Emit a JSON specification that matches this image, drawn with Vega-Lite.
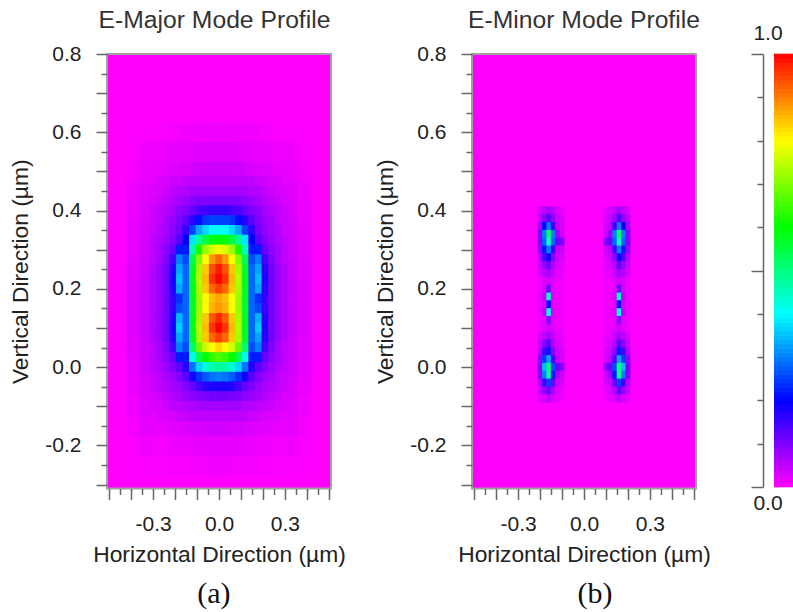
{"$schema":"https://vega.github.io/schema/vega-lite/v6.json","padding":{"left":8,"top":7,"right":0,"bottom":0},"background":"white",
"config":{"view":{"stroke":"#a0a0a0","strokeWidth":2,"fill":"#ff00ff"},"axis":{"domain":false,"grid":false,"tickColor":"#666666","tickWidth":1.5,"tickCount":40,"labelFont":"Liberation Sans","labelFontSize":21,"labelColor":"#222222","titleFont":"Liberation Sans","titleFontSize":22.8,"titleFontWeight":"normal","titleColor":"#222222","labelOverlap":false,"labelFlush":false,"labelBound":false},"title":{"font":"Liberation Sans","fontSize":24.7,"fontWeight":"normal","color":"#333333","offset":10}},
"datasets":{
"labels":[{"p":"a","x":-0.023,"y":-0.58,"t":"(a)"},{"p":"b","x":0.05,"y":-0.58,"t":"(b)"}],
"bar_labels":[{"x":-0.316,"y":1.046,"t":"1.0"},{"x":-0.316,"y":-0.039,"t":"0.0"}],
"bar":[{"v":0.005},{"v":0.015},{"v":0.025},{"v":0.035},{"v":0.045},{"v":0.055},{"v":0.065},{"v":0.075},{"v":0.085},{"v":0.095},{"v":0.105},{"v":0.115},{"v":0.125},{"v":0.135},{"v":0.145},{"v":0.155},{"v":0.165},{"v":0.175},{"v":0.185},{"v":0.195},{"v":0.205},{"v":0.215},{"v":0.225},{"v":0.235},{"v":0.245},{"v":0.255},{"v":0.265},{"v":0.275},{"v":0.285},{"v":0.295},{"v":0.305},{"v":0.315},{"v":0.325},{"v":0.335},{"v":0.345},{"v":0.355},{"v":0.365},{"v":0.375},{"v":0.385},{"v":0.395},{"v":0.405},{"v":0.415},{"v":0.425},{"v":0.435},{"v":0.445},{"v":0.455},{"v":0.465},{"v":0.475},{"v":0.485},{"v":0.495},{"v":0.505},{"v":0.515},{"v":0.525},{"v":0.535},{"v":0.545},{"v":0.555},{"v":0.565},{"v":0.575},{"v":0.585},{"v":0.595},{"v":0.605},{"v":0.615},{"v":0.625},{"v":0.635},{"v":0.645},{"v":0.655},{"v":0.665},{"v":0.675},{"v":0.685},{"v":0.695},{"v":0.705},{"v":0.715},{"v":0.725},{"v":0.735},{"v":0.745},{"v":0.755},{"v":0.765},{"v":0.775},{"v":0.785},{"v":0.795},{"v":0.805},{"v":0.815},{"v":0.825},{"v":0.835},{"v":0.845},{"v":0.855},{"v":0.865},{"v":0.875},{"v":0.885},{"v":0.895},{"v":0.905},{"v":0.915},{"v":0.925},{"v":0.935},{"v":0.945},{"v":0.955},{"v":0.965},{"v":0.975},{"v":0.985},{"v":0.995}],
"af":[
{"y":-0.25,"x":-0.39,"v":0.003},{"y":-0.25,"x":-0.33,"v":0.005},{"y":-0.25,"x":0.33,"v":0.005},{"y":-0.25,"x":0.39,"v":0.003},
{"y":-0.2,"x":-0.39,"v":0.005},{"y":-0.2,"x":-0.33,"v":0.01},{"y":-0.2,"x":0.33,"v":0.01},{"y":-0.2,"x":0.39,"v":0.005},
{"y":-0.15,"x":-0.39,"v":0.008},{"y":-0.15,"x":-0.33,"v":0.02},{"y":-0.15,"x":0.33,"v":0.02},{"y":-0.15,"x":0.39,"v":0.008},
{"y":-0.1,"x":-0.39,"v":0.012},{"y":-0.1,"x":-0.33,"v":0.025},{"y":-0.1,"x":0.33,"v":0.025},{"y":-0.1,"x":0.39,"v":0.012},
{"y":-0.05,"x":-0.39,"v":0.016},{"y":-0.05,"x":-0.33,"v":0.03},{"y":-0.05,"x":0.33,"v":0.03},{"y":-0.05,"x":0.39,"v":0.016},
{"y":0,"x":-0.39,"v":0.02},{"y":0,"x":-0.33,"v":0.035},{"y":0,"x":0.33,"v":0.035},{"y":0,"x":0.39,"v":0.02},
{"y":0.05,"x":-0.39,"v":0.023},{"y":0.05,"x":-0.33,"v":0.04},{"y":0.05,"x":0.33,"v":0.04},{"y":0.05,"x":0.39,"v":0.023},
{"y":0.1,"x":-0.39,"v":0.025},{"y":0.1,"x":-0.33,"v":0.042},{"y":0.1,"x":0.33,"v":0.042},{"y":0.1,"x":0.39,"v":0.025},
{"y":0.15,"x":-0.39,"v":0.025},{"y":0.15,"x":-0.33,"v":0.042},{"y":0.15,"x":0.33,"v":0.042},{"y":0.15,"x":0.39,"v":0.025},
{"y":0.2,"x":-0.39,"v":0.025},{"y":0.2,"x":-0.33,"v":0.042},{"y":0.2,"x":0.33,"v":0.042},{"y":0.2,"x":0.39,"v":0.025},
{"y":0.25,"x":-0.39,"v":0.023},{"y":0.25,"x":-0.33,"v":0.04},{"y":0.25,"x":0.33,"v":0.04},{"y":0.25,"x":0.39,"v":0.023},
{"y":0.3,"x":-0.39,"v":0.02},{"y":0.3,"x":-0.33,"v":0.035},{"y":0.3,"x":0.33,"v":0.035},{"y":0.3,"x":0.39,"v":0.02},
{"y":0.35,"x":-0.39,"v":0.018},{"y":0.35,"x":-0.33,"v":0.032},{"y":0.35,"x":0.33,"v":0.032},{"y":0.35,"x":0.39,"v":0.018},
{"y":0.4,"x":-0.39,"v":0.015},{"y":0.4,"x":-0.33,"v":0.028},{"y":0.4,"x":0.33,"v":0.028},{"y":0.4,"x":0.39,"v":0.015},
{"y":0.45,"x":-0.39,"v":0.012},{"y":0.45,"x":-0.33,"v":0.022},{"y":0.45,"x":0.33,"v":0.022},{"y":0.45,"x":0.39,"v":0.012},
{"y":0.5,"x":-0.39,"v":0.008},{"y":0.5,"x":-0.33,"v":0.016},{"y":0.5,"x":0.33,"v":0.016},{"y":0.5,"x":0.39,"v":0.008},
{"y":0.55,"x":-0.39,"v":0.005},{"y":0.55,"x":-0.33,"v":0.01},{"y":0.55,"x":0.33,"v":0.01},{"y":0.55,"x":0.39,"v":0.005},
{"y":0.6,"x":-0.39,"v":0.003},{"y":0.6,"x":-0.33,"v":0.005},{"y":0.6,"x":0.33,"v":0.005},{"y":0.6,"x":0.39,"v":0.003},
{"y":0.6,"x":-0.27,"v":0.005},{"y":0.6,"x":-0.21,"v":0.007},{"y":0.6,"x":-0.15,"v":0.01},{"y":0.6,"x":-0.09,"v":0.011},{"y":0.6,"x":-0.03,"v":0.012},{"y":0.6,"x":0.03,"v":0.012},{"y":0.6,"x":0.09,"v":0.011},{"y":0.6,"x":0.15,"v":0.01},{"y":0.6,"x":0.21,"v":0.007},{"y":0.6,"x":0.27,"v":0.005},
{"y":0.55,"x":-0.27,"v":0.012},{"y":0.55,"x":-0.21,"v":0.017},{"y":0.55,"x":-0.15,"v":0.02},{"y":0.55,"x":-0.09,"v":0.023},{"y":0.55,"x":-0.03,"v":0.025},{"y":0.55,"x":0.03,"v":0.025},{"y":0.55,"x":0.09,"v":0.023},{"y":0.55,"x":0.15,"v":0.02},{"y":0.55,"x":0.21,"v":0.017},{"y":0.55,"x":0.27,"v":0.012},
{"y":0.5,"x":-0.27,"v":0.018},{"y":0.5,"x":-0.21,"v":0.025},{"y":0.5,"x":-0.15,"v":0.03},{"y":0.5,"x":-0.09,"v":0.037},{"y":0.5,"x":-0.03,"v":0.04},{"y":0.5,"x":0.03,"v":0.04},{"y":0.5,"x":0.09,"v":0.037},{"y":0.5,"x":0.15,"v":0.03},{"y":0.5,"x":0.21,"v":0.025},{"y":0.5,"x":0.27,"v":0.018},
{"y":-0.15,"x":-0.27,"v":0.016},{"y":-0.15,"x":-0.21,"v":0.022},{"y":-0.15,"x":-0.15,"v":0.028},{"y":-0.15,"x":-0.09,"v":0.032},{"y":-0.15,"x":-0.03,"v":0.035},{"y":-0.15,"x":0.03,"v":0.035},{"y":-0.15,"x":0.09,"v":0.032},{"y":-0.15,"x":0.15,"v":0.028},{"y":-0.15,"x":0.21,"v":0.022},{"y":-0.15,"x":0.27,"v":0.016},
{"y":-0.2,"x":-0.27,"v":0.008},{"y":-0.2,"x":-0.21,"v":0.012},{"y":-0.2,"x":-0.15,"v":0.015},{"y":-0.2,"x":-0.09,"v":0.018},{"y":-0.2,"x":-0.03,"v":0.02},{"y":-0.2,"x":0.03,"v":0.02},{"y":-0.2,"x":0.09,"v":0.018},{"y":-0.2,"x":0.15,"v":0.015},{"y":-0.2,"x":0.21,"v":0.012},{"y":-0.2,"x":0.27,"v":0.008},
{"y":-0.25,"x":-0.27,"v":0.004},{"y":-0.25,"x":-0.21,"v":0.006},{"y":-0.25,"x":-0.15,"v":0.008},{"y":-0.25,"x":-0.09,"v":0.009},{"y":-0.25,"x":-0.03,"v":0.01},{"y":-0.25,"x":0.03,"v":0.01},{"y":-0.25,"x":0.09,"v":0.009},{"y":-0.25,"x":0.15,"v":0.008},{"y":-0.25,"x":0.21,"v":0.006},{"y":-0.25,"x":0.27,"v":0.004}
],
"a":[
{"y":0.475,"x":-0.3,"v":0.02},{"y":0.475,"x":-0.27,"v":0.03},{"y":0.475,"x":-0.24,"v":0.03},{"y":0.475,"x":-0.21,"v":0.04},{"y":0.475,"x":-0.18,"v":0.04},{"y":0.475,"x":-0.15,"v":0.05},{"y":0.475,"x":-0.12,"v":0.05},{"y":0.475,"x":-0.09,"v":0.05},{"y":0.475,"x":-0.06,"v":0.05},{"y":0.475,"x":-0.03,"v":0.05},{"y":0.475,"x":0,"v":0.05},{"y":0.475,"x":0.03,"v":0.05},{"y":0.475,"x":0.06,"v":0.05},{"y":0.475,"x":0.09,"v":0.05},{"y":0.475,"x":0.12,"v":0.05},{"y":0.475,"x":0.15,"v":0.05},{"y":0.475,"x":0.18,"v":0.04},{"y":0.475,"x":0.21,"v":0.04},{"y":0.475,"x":0.24,"v":0.03},{"y":0.475,"x":0.27,"v":0.03},{"y":0.475,"x":0.3,"v":0.02},
{"y":0.45,"x":-0.3,"v":0.03},{"y":0.45,"x":-0.27,"v":0.03},{"y":0.45,"x":-0.24,"v":0.04},{"y":0.45,"x":-0.21,"v":0.05},{"y":0.45,"x":-0.18,"v":0.06},{"y":0.45,"x":-0.15,"v":0.06},{"y":0.45,"x":-0.12,"v":0.07},{"y":0.45,"x":-0.09,"v":0.07},{"y":0.45,"x":-0.06,"v":0.07},{"y":0.45,"x":-0.03,"v":0.07},{"y":0.45,"x":0,"v":0.07},{"y":0.45,"x":0.03,"v":0.07},{"y":0.45,"x":0.06,"v":0.07},{"y":0.45,"x":0.09,"v":0.07},{"y":0.45,"x":0.12,"v":0.07},{"y":0.45,"x":0.15,"v":0.06},{"y":0.45,"x":0.18,"v":0.06},{"y":0.45,"x":0.21,"v":0.05},{"y":0.45,"x":0.24,"v":0.04},{"y":0.45,"x":0.27,"v":0.03},{"y":0.45,"x":0.3,"v":0.03},
{"y":0.425,"x":-0.3,"v":0.03},{"y":0.425,"x":-0.27,"v":0.04},{"y":0.425,"x":-0.24,"v":0.05},{"y":0.425,"x":-0.21,"v":0.06},{"y":0.425,"x":-0.18,"v":0.07},{"y":0.425,"x":-0.15,"v":0.08},{"y":0.425,"x":-0.12,"v":0.09},{"y":0.425,"x":-0.09,"v":0.1},{"y":0.425,"x":-0.06,"v":0.1},{"y":0.425,"x":-0.03,"v":0.1},{"y":0.425,"x":0,"v":0.1},{"y":0.425,"x":0.03,"v":0.1},{"y":0.425,"x":0.06,"v":0.1},{"y":0.425,"x":0.09,"v":0.1},{"y":0.425,"x":0.12,"v":0.09},{"y":0.425,"x":0.15,"v":0.08},{"y":0.425,"x":0.18,"v":0.07},{"y":0.425,"x":0.21,"v":0.06},{"y":0.425,"x":0.24,"v":0.05},{"y":0.425,"x":0.27,"v":0.04},{"y":0.425,"x":0.3,"v":0.03},
{"y":0.4,"x":-0.3,"v":0.04},{"y":0.4,"x":-0.27,"v":0.05},{"y":0.4,"x":-0.24,"v":0.06},{"y":0.4,"x":-0.21,"v":0.07},{"y":0.4,"x":-0.18,"v":0.09},{"y":0.4,"x":-0.15,"v":0.1},{"y":0.4,"x":-0.12,"v":0.12},{"y":0.4,"x":-0.09,"v":0.14},{"y":0.4,"x":-0.06,"v":0.15},{"y":0.4,"x":-0.03,"v":0.16},{"y":0.4,"x":0,"v":0.16},{"y":0.4,"x":0.03,"v":0.16},{"y":0.4,"x":0.06,"v":0.15},{"y":0.4,"x":0.09,"v":0.14},{"y":0.4,"x":0.12,"v":0.12},{"y":0.4,"x":0.15,"v":0.1},{"y":0.4,"x":0.18,"v":0.09},{"y":0.4,"x":0.21,"v":0.07},{"y":0.4,"x":0.24,"v":0.06},{"y":0.4,"x":0.27,"v":0.05},{"y":0.4,"x":0.3,"v":0.04},
{"y":0.375,"x":-0.3,"v":0.04},{"y":0.375,"x":-0.27,"v":0.05},{"y":0.375,"x":-0.24,"v":0.07},{"y":0.375,"x":-0.21,"v":0.08},{"y":0.375,"x":-0.18,"v":0.1},{"y":0.375,"x":-0.15,"v":0.13},{"y":0.375,"x":-0.12,"v":0.17},{"y":0.375,"x":-0.09,"v":0.21},{"y":0.375,"x":-0.06,"v":0.24},{"y":0.375,"x":-0.03,"v":0.25},{"y":0.375,"x":0,"v":0.25},{"y":0.375,"x":0.03,"v":0.25},{"y":0.375,"x":0.06,"v":0.24},{"y":0.375,"x":0.09,"v":0.21},{"y":0.375,"x":0.12,"v":0.17},{"y":0.375,"x":0.15,"v":0.13},{"y":0.375,"x":0.18,"v":0.1},{"y":0.375,"x":0.21,"v":0.08},{"y":0.375,"x":0.24,"v":0.07},{"y":0.375,"x":0.27,"v":0.05},{"y":0.375,"x":0.3,"v":0.04},
{"y":0.35,"x":-0.3,"v":0.04},{"y":0.35,"x":-0.27,"v":0.06},{"y":0.35,"x":-0.24,"v":0.07},{"y":0.35,"x":-0.21,"v":0.09},{"y":0.35,"x":-0.18,"v":0.11},{"y":0.35,"x":-0.15,"v":0.16},{"y":0.35,"x":-0.12,"v":0.25},{"y":0.35,"x":-0.09,"v":0.33},{"y":0.35,"x":-0.06,"v":0.37},{"y":0.35,"x":-0.03,"v":0.4},{"y":0.35,"x":0,"v":0.4},{"y":0.35,"x":0.03,"v":0.4},{"y":0.35,"x":0.06,"v":0.37},{"y":0.35,"x":0.09,"v":0.33},{"y":0.35,"x":0.12,"v":0.25},{"y":0.35,"x":0.15,"v":0.16},{"y":0.35,"x":0.18,"v":0.11},{"y":0.35,"x":0.21,"v":0.09},{"y":0.35,"x":0.24,"v":0.07},{"y":0.35,"x":0.27,"v":0.06},{"y":0.35,"x":0.3,"v":0.04},
{"y":0.325,"x":-0.3,"v":0.05},{"y":0.325,"x":-0.27,"v":0.06},{"y":0.325,"x":-0.24,"v":0.08},{"y":0.325,"x":-0.21,"v":0.1},{"y":0.325,"x":-0.18,"v":0.13},{"y":0.325,"x":-0.15,"v":0.2},{"y":0.325,"x":-0.12,"v":0.38},{"y":0.325,"x":-0.09,"v":0.48},{"y":0.325,"x":-0.06,"v":0.55},{"y":0.325,"x":-0.03,"v":0.59},{"y":0.325,"x":0,"v":0.6},{"y":0.325,"x":0.03,"v":0.59},{"y":0.325,"x":0.06,"v":0.55},{"y":0.325,"x":0.09,"v":0.48},{"y":0.325,"x":0.12,"v":0.38},{"y":0.325,"x":0.15,"v":0.2},{"y":0.325,"x":0.18,"v":0.13},{"y":0.325,"x":0.21,"v":0.1},{"y":0.325,"x":0.24,"v":0.08},{"y":0.325,"x":0.27,"v":0.06},{"y":0.325,"x":0.3,"v":0.05},
{"y":0.3,"x":-0.3,"v":0.05},{"y":0.3,"x":-0.27,"v":0.07},{"y":0.3,"x":-0.24,"v":0.09},{"y":0.3,"x":-0.21,"v":0.12},{"y":0.3,"x":-0.18,"v":0.22},{"y":0.3,"x":-0.15,"v":0.22},{"y":0.3,"x":-0.12,"v":0.46},{"y":0.3,"x":-0.09,"v":0.62},{"y":0.3,"x":-0.06,"v":0.72},{"y":0.3,"x":-0.03,"v":0.77},{"y":0.3,"x":0,"v":0.79},{"y":0.3,"x":0.03,"v":0.77},{"y":0.3,"x":0.06,"v":0.72},{"y":0.3,"x":0.09,"v":0.62},{"y":0.3,"x":0.12,"v":0.46},{"y":0.3,"x":0.15,"v":0.22},{"y":0.3,"x":0.18,"v":0.22},{"y":0.3,"x":0.21,"v":0.12},{"y":0.3,"x":0.24,"v":0.09},{"y":0.3,"x":0.27,"v":0.07},{"y":0.3,"x":0.3,"v":0.05},
{"y":0.275,"x":-0.3,"v":0.05},{"y":0.275,"x":-0.27,"v":0.07},{"y":0.275,"x":-0.24,"v":0.1},{"y":0.275,"x":-0.21,"v":0.15},{"y":0.275,"x":-0.18,"v":0.3},{"y":0.275,"x":-0.15,"v":0.26},{"y":0.275,"x":-0.12,"v":0.54},{"y":0.275,"x":-0.09,"v":0.7},{"y":0.275,"x":-0.06,"v":0.8},{"y":0.275,"x":-0.03,"v":0.88},{"y":0.275,"x":0,"v":0.92},{"y":0.275,"x":0.03,"v":0.88},{"y":0.275,"x":0.06,"v":0.8},{"y":0.275,"x":0.09,"v":0.7},{"y":0.275,"x":0.12,"v":0.54},{"y":0.275,"x":0.15,"v":0.26},{"y":0.275,"x":0.18,"v":0.3},{"y":0.275,"x":0.21,"v":0.15},{"y":0.275,"x":0.24,"v":0.1},{"y":0.275,"x":0.27,"v":0.07},{"y":0.275,"x":0.3,"v":0.05},
{"y":0.25,"x":-0.3,"v":0.06},{"y":0.25,"x":-0.27,"v":0.08},{"y":0.25,"x":-0.24,"v":0.11},{"y":0.25,"x":-0.21,"v":0.17},{"y":0.25,"x":-0.18,"v":0.33},{"y":0.25,"x":-0.15,"v":0.28},{"y":0.25,"x":-0.12,"v":0.57},{"y":0.25,"x":-0.09,"v":0.73},{"y":0.25,"x":-0.06,"v":0.84},{"y":0.25,"x":-0.03,"v":0.94},{"y":0.25,"x":0,"v":0.98},{"y":0.25,"x":0.03,"v":0.94},{"y":0.25,"x":0.06,"v":0.84},{"y":0.25,"x":0.09,"v":0.73},{"y":0.25,"x":0.12,"v":0.57},{"y":0.25,"x":0.15,"v":0.28},{"y":0.25,"x":0.18,"v":0.33},{"y":0.25,"x":0.21,"v":0.17},{"y":0.25,"x":0.24,"v":0.11},{"y":0.25,"x":0.27,"v":0.08},{"y":0.25,"x":0.3,"v":0.06},
{"y":0.225,"x":-0.3,"v":0.06},{"y":0.225,"x":-0.27,"v":0.08},{"y":0.225,"x":-0.24,"v":0.11},{"y":0.225,"x":-0.21,"v":0.18},{"y":0.225,"x":-0.18,"v":0.35},{"y":0.225,"x":-0.15,"v":0.28},{"y":0.225,"x":-0.12,"v":0.58},{"y":0.225,"x":-0.09,"v":0.74},{"y":0.225,"x":-0.06,"v":0.85},{"y":0.225,"x":-0.03,"v":0.96},{"y":0.225,"x":0,"v":1},{"y":0.225,"x":0.03,"v":0.96},{"y":0.225,"x":0.06,"v":0.85},{"y":0.225,"x":0.09,"v":0.74},{"y":0.225,"x":0.12,"v":0.58},{"y":0.225,"x":0.15,"v":0.28},{"y":0.225,"x":0.18,"v":0.35},{"y":0.225,"x":0.21,"v":0.18},{"y":0.225,"x":0.24,"v":0.11},{"y":0.225,"x":0.27,"v":0.08},{"y":0.225,"x":0.3,"v":0.06},
{"y":0.2,"x":-0.3,"v":0.06},{"y":0.2,"x":-0.27,"v":0.08},{"y":0.2,"x":-0.24,"v":0.11},{"y":0.2,"x":-0.21,"v":0.17},{"y":0.2,"x":-0.18,"v":0.33},{"y":0.2,"x":-0.15,"v":0.28},{"y":0.2,"x":-0.12,"v":0.58},{"y":0.2,"x":-0.09,"v":0.73},{"y":0.2,"x":-0.06,"v":0.84},{"y":0.2,"x":-0.03,"v":0.92},{"y":0.2,"x":0,"v":0.95},{"y":0.2,"x":0.03,"v":0.92},{"y":0.2,"x":0.06,"v":0.84},{"y":0.2,"x":0.09,"v":0.73},{"y":0.2,"x":0.12,"v":0.58},{"y":0.2,"x":0.15,"v":0.28},{"y":0.2,"x":0.18,"v":0.33},{"y":0.2,"x":0.21,"v":0.17},{"y":0.2,"x":0.24,"v":0.11},{"y":0.2,"x":0.27,"v":0.08},{"y":0.2,"x":0.3,"v":0.06},
{"y":0.175,"x":-0.3,"v":0.06},{"y":0.175,"x":-0.27,"v":0.08},{"y":0.175,"x":-0.24,"v":0.11},{"y":0.175,"x":-0.21,"v":0.16},{"y":0.175,"x":-0.18,"v":0.24},{"y":0.175,"x":-0.15,"v":0.28},{"y":0.175,"x":-0.12,"v":0.57},{"y":0.175,"x":-0.09,"v":0.72},{"y":0.175,"x":-0.06,"v":0.8},{"y":0.175,"x":-0.03,"v":0.85},{"y":0.175,"x":0,"v":0.87},{"y":0.175,"x":0.03,"v":0.85},{"y":0.175,"x":0.06,"v":0.8},{"y":0.175,"x":0.09,"v":0.72},{"y":0.175,"x":0.12,"v":0.57},{"y":0.175,"x":0.15,"v":0.28},{"y":0.175,"x":0.18,"v":0.24},{"y":0.175,"x":0.21,"v":0.16},{"y":0.175,"x":0.24,"v":0.11},{"y":0.175,"x":0.27,"v":0.08},{"y":0.175,"x":0.3,"v":0.06},
{"y":0.15,"x":-0.3,"v":0.06},{"y":0.15,"x":-0.27,"v":0.08},{"y":0.15,"x":-0.24,"v":0.11},{"y":0.15,"x":-0.21,"v":0.16},{"y":0.15,"x":-0.18,"v":0.26},{"y":0.15,"x":-0.15,"v":0.28},{"y":0.15,"x":-0.12,"v":0.57},{"y":0.15,"x":-0.09,"v":0.72},{"y":0.15,"x":-0.06,"v":0.8},{"y":0.15,"x":-0.03,"v":0.86},{"y":0.15,"x":0,"v":0.88},{"y":0.15,"x":0.03,"v":0.86},{"y":0.15,"x":0.06,"v":0.8},{"y":0.15,"x":0.09,"v":0.72},{"y":0.15,"x":0.12,"v":0.57},{"y":0.15,"x":0.15,"v":0.28},{"y":0.15,"x":0.18,"v":0.26},{"y":0.15,"x":0.21,"v":0.16},{"y":0.15,"x":0.24,"v":0.11},{"y":0.15,"x":0.27,"v":0.08},{"y":0.15,"x":0.3,"v":0.06},
{"y":0.125,"x":-0.3,"v":0.06},{"y":0.125,"x":-0.27,"v":0.08},{"y":0.125,"x":-0.24,"v":0.11},{"y":0.125,"x":-0.21,"v":0.17},{"y":0.125,"x":-0.18,"v":0.34},{"y":0.125,"x":-0.15,"v":0.28},{"y":0.125,"x":-0.12,"v":0.58},{"y":0.125,"x":-0.09,"v":0.73},{"y":0.125,"x":-0.06,"v":0.84},{"y":0.125,"x":-0.03,"v":0.93},{"y":0.125,"x":0,"v":0.97},{"y":0.125,"x":0.03,"v":0.93},{"y":0.125,"x":0.06,"v":0.84},{"y":0.125,"x":0.09,"v":0.73},{"y":0.125,"x":0.12,"v":0.58},{"y":0.125,"x":0.15,"v":0.28},{"y":0.125,"x":0.18,"v":0.34},{"y":0.125,"x":0.21,"v":0.17},{"y":0.125,"x":0.24,"v":0.11},{"y":0.125,"x":0.27,"v":0.08},{"y":0.125,"x":0.3,"v":0.06},
{"y":0.1,"x":-0.3,"v":0.06},{"y":0.1,"x":-0.27,"v":0.08},{"y":0.1,"x":-0.24,"v":0.11},{"y":0.1,"x":-0.21,"v":0.18},{"y":0.1,"x":-0.18,"v":0.36},{"y":0.1,"x":-0.15,"v":0.28},{"y":0.1,"x":-0.12,"v":0.58},{"y":0.1,"x":-0.09,"v":0.74},{"y":0.1,"x":-0.06,"v":0.85},{"y":0.1,"x":-0.03,"v":0.96},{"y":0.1,"x":0,"v":1},{"y":0.1,"x":0.03,"v":0.96},{"y":0.1,"x":0.06,"v":0.85},{"y":0.1,"x":0.09,"v":0.74},{"y":0.1,"x":0.12,"v":0.58},{"y":0.1,"x":0.15,"v":0.28},{"y":0.1,"x":0.18,"v":0.36},{"y":0.1,"x":0.21,"v":0.18},{"y":0.1,"x":0.24,"v":0.11},{"y":0.1,"x":0.27,"v":0.08},{"y":0.1,"x":0.3,"v":0.06},
{"y":0.075,"x":-0.3,"v":0.06},{"y":0.075,"x":-0.27,"v":0.08},{"y":0.075,"x":-0.24,"v":0.11},{"y":0.075,"x":-0.21,"v":0.17},{"y":0.075,"x":-0.18,"v":0.33},{"y":0.075,"x":-0.15,"v":0.28},{"y":0.075,"x":-0.12,"v":0.57},{"y":0.075,"x":-0.09,"v":0.73},{"y":0.075,"x":-0.06,"v":0.84},{"y":0.075,"x":-0.03,"v":0.92},{"y":0.075,"x":0,"v":0.95},{"y":0.075,"x":0.03,"v":0.92},{"y":0.075,"x":0.06,"v":0.84},{"y":0.075,"x":0.09,"v":0.73},{"y":0.075,"x":0.12,"v":0.57},{"y":0.075,"x":0.15,"v":0.28},{"y":0.075,"x":0.18,"v":0.33},{"y":0.075,"x":0.21,"v":0.17},{"y":0.075,"x":0.24,"v":0.11},{"y":0.075,"x":0.27,"v":0.08},{"y":0.075,"x":0.3,"v":0.06},
{"y":0.05,"x":-0.3,"v":0.05},{"y":0.05,"x":-0.27,"v":0.07},{"y":0.05,"x":-0.24,"v":0.1},{"y":0.05,"x":-0.21,"v":0.15},{"y":0.05,"x":-0.18,"v":0.3},{"y":0.05,"x":-0.15,"v":0.26},{"y":0.05,"x":-0.12,"v":0.52},{"y":0.05,"x":-0.09,"v":0.68},{"y":0.05,"x":-0.06,"v":0.76},{"y":0.05,"x":-0.03,"v":0.8},{"y":0.05,"x":0,"v":0.83},{"y":0.05,"x":0.03,"v":0.8},{"y":0.05,"x":0.06,"v":0.76},{"y":0.05,"x":0.09,"v":0.68},{"y":0.05,"x":0.12,"v":0.52},{"y":0.05,"x":0.15,"v":0.26},{"y":0.05,"x":0.18,"v":0.3},{"y":0.05,"x":0.21,"v":0.15},{"y":0.05,"x":0.24,"v":0.1},{"y":0.05,"x":0.27,"v":0.07},{"y":0.05,"x":0.3,"v":0.05},
{"y":0.025,"x":-0.3,"v":0.05},{"y":0.025,"x":-0.27,"v":0.07},{"y":0.025,"x":-0.24,"v":0.09},{"y":0.025,"x":-0.21,"v":0.12},{"y":0.025,"x":-0.18,"v":0.22},{"y":0.025,"x":-0.15,"v":0.22},{"y":0.025,"x":-0.12,"v":0.42},{"y":0.025,"x":-0.09,"v":0.54},{"y":0.025,"x":-0.06,"v":0.6},{"y":0.025,"x":-0.03,"v":0.64},{"y":0.025,"x":0,"v":0.66},{"y":0.025,"x":0.03,"v":0.64},{"y":0.025,"x":0.06,"v":0.6},{"y":0.025,"x":0.09,"v":0.54},{"y":0.025,"x":0.12,"v":0.42},{"y":0.025,"x":0.15,"v":0.22},{"y":0.025,"x":0.18,"v":0.22},{"y":0.025,"x":0.21,"v":0.12},{"y":0.025,"x":0.24,"v":0.09},{"y":0.025,"x":0.27,"v":0.07},{"y":0.025,"x":0.3,"v":0.05},
{"y":0,"x":-0.3,"v":0.05},{"y":0,"x":-0.27,"v":0.06},{"y":0,"x":-0.24,"v":0.08},{"y":0,"x":-0.21,"v":0.1},{"y":0,"x":-0.18,"v":0.13},{"y":0,"x":-0.15,"v":0.17},{"y":0,"x":-0.12,"v":0.29},{"y":0,"x":-0.09,"v":0.37},{"y":0,"x":-0.06,"v":0.43},{"y":0,"x":-0.03,"v":0.47},{"y":0,"x":0,"v":0.48},{"y":0,"x":0.03,"v":0.47},{"y":0,"x":0.06,"v":0.43},{"y":0,"x":0.09,"v":0.37},{"y":0,"x":0.12,"v":0.29},{"y":0,"x":0.15,"v":0.17},{"y":0,"x":0.18,"v":0.13},{"y":0,"x":0.21,"v":0.1},{"y":0,"x":0.24,"v":0.08},{"y":0,"x":0.27,"v":0.06},{"y":0,"x":0.3,"v":0.05},
{"y":-0.025,"x":-0.3,"v":0.04},{"y":-0.025,"x":-0.27,"v":0.05},{"y":-0.025,"x":-0.24,"v":0.07},{"y":-0.025,"x":-0.21,"v":0.08},{"y":-0.025,"x":-0.18,"v":0.1},{"y":-0.025,"x":-0.15,"v":0.13},{"y":-0.025,"x":-0.12,"v":0.19},{"y":-0.025,"x":-0.09,"v":0.24},{"y":-0.025,"x":-0.06,"v":0.27},{"y":-0.025,"x":-0.03,"v":0.29},{"y":-0.025,"x":0,"v":0.3},{"y":-0.025,"x":0.03,"v":0.29},{"y":-0.025,"x":0.06,"v":0.27},{"y":-0.025,"x":0.09,"v":0.24},{"y":-0.025,"x":0.12,"v":0.19},{"y":-0.025,"x":0.15,"v":0.13},{"y":-0.025,"x":0.18,"v":0.1},{"y":-0.025,"x":0.21,"v":0.08},{"y":-0.025,"x":0.24,"v":0.07},{"y":-0.025,"x":0.27,"v":0.05},{"y":-0.025,"x":0.3,"v":0.04},
{"y":-0.05,"x":-0.3,"v":0.04},{"y":-0.05,"x":-0.27,"v":0.05},{"y":-0.05,"x":-0.24,"v":0.06},{"y":-0.05,"x":-0.21,"v":0.07},{"y":-0.05,"x":-0.18,"v":0.08},{"y":-0.05,"x":-0.15,"v":0.1},{"y":-0.05,"x":-0.12,"v":0.12},{"y":-0.05,"x":-0.09,"v":0.15},{"y":-0.05,"x":-0.06,"v":0.17},{"y":-0.05,"x":-0.03,"v":0.18},{"y":-0.05,"x":0,"v":0.18},{"y":-0.05,"x":0.03,"v":0.18},{"y":-0.05,"x":0.06,"v":0.17},{"y":-0.05,"x":0.09,"v":0.15},{"y":-0.05,"x":0.12,"v":0.12},{"y":-0.05,"x":0.15,"v":0.1},{"y":-0.05,"x":0.18,"v":0.08},{"y":-0.05,"x":0.21,"v":0.07},{"y":-0.05,"x":0.24,"v":0.06},{"y":-0.05,"x":0.27,"v":0.05},{"y":-0.05,"x":0.3,"v":0.04},
{"y":-0.075,"x":-0.3,"v":0.03},{"y":-0.075,"x":-0.27,"v":0.04},{"y":-0.075,"x":-0.24,"v":0.05},{"y":-0.075,"x":-0.21,"v":0.06},{"y":-0.075,"x":-0.18,"v":0.07},{"y":-0.075,"x":-0.15,"v":0.08},{"y":-0.075,"x":-0.12,"v":0.09},{"y":-0.075,"x":-0.09,"v":0.1},{"y":-0.075,"x":-0.06,"v":0.1},{"y":-0.075,"x":-0.03,"v":0.11},{"y":-0.075,"x":0,"v":0.11},{"y":-0.075,"x":0.03,"v":0.11},{"y":-0.075,"x":0.06,"v":0.1},{"y":-0.075,"x":0.09,"v":0.1},{"y":-0.075,"x":0.12,"v":0.09},{"y":-0.075,"x":0.15,"v":0.08},{"y":-0.075,"x":0.18,"v":0.07},{"y":-0.075,"x":0.21,"v":0.06},{"y":-0.075,"x":0.24,"v":0.05},{"y":-0.075,"x":0.27,"v":0.04},{"y":-0.075,"x":0.3,"v":0.03},
{"y":-0.1,"x":-0.3,"v":0.03},{"y":-0.1,"x":-0.27,"v":0.03},{"y":-0.1,"x":-0.24,"v":0.04},{"y":-0.1,"x":-0.21,"v":0.05},{"y":-0.1,"x":-0.18,"v":0.05},{"y":-0.1,"x":-0.15,"v":0.06},{"y":-0.1,"x":-0.12,"v":0.06},{"y":-0.1,"x":-0.09,"v":0.07},{"y":-0.1,"x":-0.06,"v":0.07},{"y":-0.1,"x":-0.03,"v":0.07},{"y":-0.1,"x":0,"v":0.07},{"y":-0.1,"x":0.03,"v":0.07},{"y":-0.1,"x":0.06,"v":0.07},{"y":-0.1,"x":0.09,"v":0.07},{"y":-0.1,"x":0.12,"v":0.06},{"y":-0.1,"x":0.15,"v":0.06},{"y":-0.1,"x":0.18,"v":0.05},{"y":-0.1,"x":0.21,"v":0.05},{"y":-0.1,"x":0.24,"v":0.04},{"y":-0.1,"x":0.27,"v":0.03},{"y":-0.1,"x":0.3,"v":0.03},
{"y":-0.125,"x":-0.3,"v":0.02},{"y":-0.125,"x":-0.27,"v":0.03},{"y":-0.125,"x":-0.24,"v":0.03},{"y":-0.125,"x":-0.21,"v":0.03},{"y":-0.125,"x":-0.18,"v":0.04},{"y":-0.125,"x":-0.15,"v":0.04},{"y":-0.125,"x":-0.12,"v":0.05},{"y":-0.125,"x":-0.09,"v":0.05},{"y":-0.125,"x":-0.06,"v":0.05},{"y":-0.125,"x":-0.03,"v":0.05},{"y":-0.125,"x":0,"v":0.05},{"y":-0.125,"x":0.03,"v":0.05},{"y":-0.125,"x":0.06,"v":0.05},{"y":-0.125,"x":0.09,"v":0.05},{"y":-0.125,"x":0.12,"v":0.05},{"y":-0.125,"x":0.15,"v":0.04},{"y":-0.125,"x":0.18,"v":0.04},{"y":-0.125,"x":0.21,"v":0.03},{"y":-0.125,"x":0.24,"v":0.03},{"y":-0.125,"x":0.27,"v":0.03},{"y":-0.125,"x":0.3,"v":0.02}
],
"b":[
{"y":0.4,"x":-0.2,"v":0.03},{"y":0.4,"x":-0.18,"v":0.05},{"y":0.4,"x":-0.16,"v":0.07},{"y":0.4,"x":-0.14,"v":0.05},{"y":0.4,"x":-0.12,"v":0.03},{"y":0.4,"x":-0.1,"v":0.02},{"y":0.4,"x":0.1,"v":0.02},{"y":0.4,"x":0.12,"v":0.03},{"y":0.4,"x":0.14,"v":0.05},{"y":0.4,"x":0.16,"v":0.07},{"y":0.4,"x":0.18,"v":0.05},{"y":0.4,"x":0.2,"v":0.03},
{"y":0.38,"x":-0.2,"v":0.05},{"y":0.38,"x":-0.18,"v":0.09},{"y":0.38,"x":-0.16,"v":0.14},{"y":0.38,"x":-0.14,"v":0.08},{"y":0.38,"x":-0.12,"v":0.04},{"y":0.38,"x":-0.1,"v":0.03},{"y":0.38,"x":0.1,"v":0.03},{"y":0.38,"x":0.12,"v":0.04},{"y":0.38,"x":0.14,"v":0.08},{"y":0.38,"x":0.16,"v":0.14},{"y":0.38,"x":0.18,"v":0.09},{"y":0.38,"x":0.2,"v":0.05},
{"y":0.36,"x":-0.2,"v":0.07},{"y":0.36,"x":-0.18,"v":0.2},{"y":0.36,"x":-0.16,"v":0.3},{"y":0.36,"x":-0.14,"v":0.15},{"y":0.36,"x":-0.12,"v":0.05},{"y":0.36,"x":-0.1,"v":0.03},{"y":0.36,"x":0.1,"v":0.03},{"y":0.36,"x":0.12,"v":0.05},{"y":0.36,"x":0.14,"v":0.15},{"y":0.36,"x":0.16,"v":0.3},{"y":0.36,"x":0.18,"v":0.2},{"y":0.36,"x":0.2,"v":0.07},
{"y":0.34,"x":-0.2,"v":0.1},{"y":0.34,"x":-0.18,"v":0.3},{"y":0.34,"x":-0.16,"v":0.52},{"y":0.34,"x":-0.14,"v":0.3},{"y":0.34,"x":-0.12,"v":0.08},{"y":0.34,"x":-0.1,"v":0.04},{"y":0.34,"x":0.1,"v":0.04},{"y":0.34,"x":0.12,"v":0.08},{"y":0.34,"x":0.14,"v":0.3},{"y":0.34,"x":0.16,"v":0.52},{"y":0.34,"x":0.18,"v":0.3},{"y":0.34,"x":0.2,"v":0.1},
{"y":0.32,"x":-0.2,"v":0.1},{"y":0.32,"x":-0.18,"v":0.28},{"y":0.32,"x":-0.16,"v":0.45},{"y":0.32,"x":-0.14,"v":0.28},{"y":0.32,"x":-0.12,"v":0.12},{"y":0.32,"x":-0.1,"v":0.1},{"y":0.32,"x":0.1,"v":0.1},{"y":0.32,"x":0.12,"v":0.12},{"y":0.32,"x":0.14,"v":0.28},{"y":0.32,"x":0.16,"v":0.45},{"y":0.32,"x":0.18,"v":0.28},{"y":0.32,"x":0.2,"v":0.1},
{"y":0.3,"x":-0.2,"v":0.08},{"y":0.3,"x":-0.18,"v":0.22},{"y":0.3,"x":-0.16,"v":0.3},{"y":0.3,"x":-0.14,"v":0.15},{"y":0.3,"x":-0.12,"v":0.05},{"y":0.3,"x":-0.1,"v":0.04},{"y":0.3,"x":0.1,"v":0.04},{"y":0.3,"x":0.12,"v":0.05},{"y":0.3,"x":0.14,"v":0.15},{"y":0.3,"x":0.16,"v":0.3},{"y":0.3,"x":0.18,"v":0.22},{"y":0.3,"x":0.2,"v":0.08},
{"y":0.28,"x":-0.2,"v":0.06},{"y":0.28,"x":-0.18,"v":0.14},{"y":0.28,"x":-0.16,"v":0.2},{"y":0.28,"x":-0.14,"v":0.09},{"y":0.28,"x":-0.12,"v":0.04},{"y":0.28,"x":-0.1,"v":0.03},{"y":0.28,"x":0.1,"v":0.03},{"y":0.28,"x":0.12,"v":0.04},{"y":0.28,"x":0.14,"v":0.09},{"y":0.28,"x":0.16,"v":0.2},{"y":0.28,"x":0.18,"v":0.14},{"y":0.28,"x":0.2,"v":0.06},
{"y":0.26,"x":-0.2,"v":0.04},{"y":0.26,"x":-0.18,"v":0.08},{"y":0.26,"x":-0.16,"v":0.12},{"y":0.26,"x":-0.14,"v":0.06},{"y":0.26,"x":-0.12,"v":0.03},{"y":0.26,"x":-0.1,"v":0.02},{"y":0.26,"x":0.1,"v":0.02},{"y":0.26,"x":0.12,"v":0.03},{"y":0.26,"x":0.14,"v":0.06},{"y":0.26,"x":0.16,"v":0.12},{"y":0.26,"x":0.18,"v":0.08},{"y":0.26,"x":0.2,"v":0.04},
{"y":0.24,"x":-0.2,"v":0.03},{"y":0.24,"x":-0.18,"v":0.05},{"y":0.24,"x":-0.16,"v":0.07},{"y":0.24,"x":-0.14,"v":0.04},{"y":0.24,"x":-0.12,"v":0.02},{"y":0.24,"x":-0.1,"v":0.02},{"y":0.24,"x":0.1,"v":0.02},{"y":0.24,"x":0.12,"v":0.02},{"y":0.24,"x":0.14,"v":0.04},{"y":0.24,"x":0.16,"v":0.07},{"y":0.24,"x":0.18,"v":0.05},{"y":0.24,"x":0.2,"v":0.03},
{"y":0.22,"x":-0.2,"v":0.01},{"y":0.22,"x":-0.18,"v":0.03},{"y":0.22,"x":-0.16,"v":0.04},{"y":0.22,"x":-0.14,"v":0.02},{"y":0.22,"x":-0.12,"v":0.01},{"y":0.22,"x":-0.1,"v":0.01},{"y":0.22,"x":0.1,"v":0.01},{"y":0.22,"x":0.12,"v":0.01},{"y":0.22,"x":0.14,"v":0.02},{"y":0.22,"x":0.16,"v":0.04},{"y":0.22,"x":0.18,"v":0.03},{"y":0.22,"x":0.2,"v":0.01},
{"y":0.2,"x":-0.2,"v":0.01},{"y":0.2,"x":-0.18,"v":0.03},{"y":0.2,"x":-0.16,"v":0.12},{"y":0.2,"x":-0.14,"v":0.02},{"y":0.2,"x":-0.12,"v":0.01},{"y":0.2,"x":-0.1,"v":0.01},{"y":0.2,"x":0.1,"v":0.01},{"y":0.2,"x":0.12,"v":0.01},{"y":0.2,"x":0.14,"v":0.02},{"y":0.2,"x":0.16,"v":0.12},{"y":0.2,"x":0.18,"v":0.03},{"y":0.2,"x":0.2,"v":0.01},
{"y":0.18,"x":-0.2,"v":0.01},{"y":0.18,"x":-0.18,"v":0.05},{"y":0.18,"x":-0.16,"v":0.45},{"y":0.18,"x":-0.14,"v":0.03},{"y":0.18,"x":-0.12,"v":0.01},{"y":0.18,"x":-0.1,"v":0.01},{"y":0.18,"x":0.1,"v":0.01},{"y":0.18,"x":0.12,"v":0.01},{"y":0.18,"x":0.14,"v":0.03},{"y":0.18,"x":0.16,"v":0.45},{"y":0.18,"x":0.18,"v":0.05},{"y":0.18,"x":0.2,"v":0.01},
{"y":0.16,"x":-0.2,"v":0.01},{"y":0.16,"x":-0.18,"v":0.03},{"y":0.16,"x":-0.16,"v":0.2},{"y":0.16,"x":-0.14,"v":0.02},{"y":0.16,"x":-0.12,"v":0.01},{"y":0.16,"x":-0.1,"v":0.01},{"y":0.16,"x":0.1,"v":0.01},{"y":0.16,"x":0.12,"v":0.01},{"y":0.16,"x":0.14,"v":0.02},{"y":0.16,"x":0.16,"v":0.2},{"y":0.16,"x":0.18,"v":0.03},{"y":0.16,"x":0.2,"v":0.01},
{"y":0.14,"x":-0.2,"v":0.01},{"y":0.14,"x":-0.18,"v":0.05},{"y":0.14,"x":-0.16,"v":0.42},{"y":0.14,"x":-0.14,"v":0.03},{"y":0.14,"x":-0.12,"v":0.01},{"y":0.14,"x":-0.1,"v":0.01},{"y":0.14,"x":0.1,"v":0.01},{"y":0.14,"x":0.12,"v":0.01},{"y":0.14,"x":0.14,"v":0.03},{"y":0.14,"x":0.16,"v":0.42},{"y":0.14,"x":0.18,"v":0.05},{"y":0.14,"x":0.2,"v":0.01},
{"y":0.12,"x":-0.2,"v":0.01},{"y":0.12,"x":-0.18,"v":0.02},{"y":0.12,"x":-0.16,"v":0.1},{"y":0.12,"x":-0.14,"v":0.02},{"y":0.12,"x":-0.12,"v":0.01},{"y":0.12,"x":-0.1,"v":0.01},{"y":0.12,"x":0.1,"v":0.01},{"y":0.12,"x":0.12,"v":0.01},{"y":0.12,"x":0.14,"v":0.02},{"y":0.12,"x":0.16,"v":0.1},{"y":0.12,"x":0.18,"v":0.02},{"y":0.12,"x":0.2,"v":0.01},
{"y":0.1,"x":-0.2,"v":0.01},{"y":0.1,"x":-0.18,"v":0.02},{"y":0.1,"x":-0.16,"v":0.04},{"y":0.1,"x":-0.14,"v":0.02},{"y":0.1,"x":-0.12,"v":0.01},{"y":0.1,"x":-0.1,"v":0.01},{"y":0.1,"x":0.1,"v":0.01},{"y":0.1,"x":0.12,"v":0.01},{"y":0.1,"x":0.14,"v":0.02},{"y":0.1,"x":0.16,"v":0.04},{"y":0.1,"x":0.18,"v":0.02},{"y":0.1,"x":0.2,"v":0.01},
{"y":0.08,"x":-0.2,"v":0.03},{"y":0.08,"x":-0.18,"v":0.05},{"y":0.08,"x":-0.16,"v":0.07},{"y":0.08,"x":-0.14,"v":0.04},{"y":0.08,"x":-0.12,"v":0.02},{"y":0.08,"x":-0.1,"v":0.02},{"y":0.08,"x":0.1,"v":0.02},{"y":0.08,"x":0.12,"v":0.02},{"y":0.08,"x":0.14,"v":0.04},{"y":0.08,"x":0.16,"v":0.07},{"y":0.08,"x":0.18,"v":0.05},{"y":0.08,"x":0.2,"v":0.03},
{"y":0.06,"x":-0.2,"v":0.04},{"y":0.06,"x":-0.18,"v":0.09},{"y":0.06,"x":-0.16,"v":0.13},{"y":0.06,"x":-0.14,"v":0.06},{"y":0.06,"x":-0.12,"v":0.03},{"y":0.06,"x":-0.1,"v":0.02},{"y":0.06,"x":0.1,"v":0.02},{"y":0.06,"x":0.12,"v":0.03},{"y":0.06,"x":0.14,"v":0.06},{"y":0.06,"x":0.16,"v":0.13},{"y":0.06,"x":0.18,"v":0.09},{"y":0.06,"x":0.2,"v":0.04},
{"y":0.04,"x":-0.2,"v":0.06},{"y":0.04,"x":-0.18,"v":0.15},{"y":0.04,"x":-0.16,"v":0.22},{"y":0.04,"x":-0.14,"v":0.09},{"y":0.04,"x":-0.12,"v":0.04},{"y":0.04,"x":-0.1,"v":0.03},{"y":0.04,"x":0.1,"v":0.03},{"y":0.04,"x":0.12,"v":0.04},{"y":0.04,"x":0.14,"v":0.09},{"y":0.04,"x":0.16,"v":0.22},{"y":0.04,"x":0.18,"v":0.15},{"y":0.04,"x":0.2,"v":0.06},
{"y":0.02,"x":-0.2,"v":0.09},{"y":0.02,"x":-0.18,"v":0.25},{"y":0.02,"x":-0.16,"v":0.33},{"y":0.02,"x":-0.14,"v":0.14},{"y":0.02,"x":-0.12,"v":0.05},{"y":0.02,"x":-0.1,"v":0.03},{"y":0.02,"x":0.1,"v":0.03},{"y":0.02,"x":0.12,"v":0.05},{"y":0.02,"x":0.14,"v":0.14},{"y":0.02,"x":0.16,"v":0.33},{"y":0.02,"x":0.18,"v":0.25},{"y":0.02,"x":0.2,"v":0.09},
{"y":0,"x":-0.2,"v":0.1},{"y":0,"x":-0.18,"v":0.35},{"y":0,"x":-0.16,"v":0.5},{"y":0,"x":-0.14,"v":0.26},{"y":0,"x":-0.12,"v":0.12},{"y":0,"x":-0.1,"v":0.09},{"y":0,"x":0.1,"v":0.09},{"y":0,"x":0.12,"v":0.12},{"y":0,"x":0.14,"v":0.26},{"y":0,"x":0.16,"v":0.5},{"y":0,"x":0.18,"v":0.35},{"y":0,"x":0.2,"v":0.1},
{"y":-0.02,"x":-0.2,"v":0.1},{"y":-0.02,"x":-0.18,"v":0.3},{"y":-0.02,"x":-0.16,"v":0.48},{"y":-0.02,"x":-0.14,"v":0.22},{"y":-0.02,"x":-0.12,"v":0.07},{"y":-0.02,"x":-0.1,"v":0.04},{"y":-0.02,"x":0.1,"v":0.04},{"y":-0.02,"x":0.12,"v":0.07},{"y":-0.02,"x":0.14,"v":0.22},{"y":-0.02,"x":0.16,"v":0.48},{"y":-0.02,"x":0.18,"v":0.3},{"y":-0.02,"x":0.2,"v":0.1},
{"y":-0.04,"x":-0.2,"v":0.06},{"y":-0.04,"x":-0.18,"v":0.15},{"y":-0.04,"x":-0.16,"v":0.25},{"y":-0.04,"x":-0.14,"v":0.12},{"y":-0.04,"x":-0.12,"v":0.04},{"y":-0.04,"x":-0.1,"v":0.03},{"y":-0.04,"x":0.1,"v":0.03},{"y":-0.04,"x":0.12,"v":0.04},{"y":-0.04,"x":0.14,"v":0.12},{"y":-0.04,"x":0.16,"v":0.25},{"y":-0.04,"x":0.18,"v":0.15},{"y":-0.04,"x":0.2,"v":0.06},
{"y":-0.06,"x":-0.2,"v":0.04},{"y":-0.06,"x":-0.18,"v":0.08},{"y":-0.06,"x":-0.16,"v":0.12},{"y":-0.06,"x":-0.14,"v":0.06},{"y":-0.06,"x":-0.12,"v":0.03},{"y":-0.06,"x":-0.1,"v":0.02},{"y":-0.06,"x":0.1,"v":0.02},{"y":-0.06,"x":0.12,"v":0.03},{"y":-0.06,"x":0.14,"v":0.06},{"y":-0.06,"x":0.16,"v":0.12},{"y":-0.06,"x":0.18,"v":0.08},{"y":-0.06,"x":0.2,"v":0.04},
{"y":-0.08,"x":-0.2,"v":0.02},{"y":-0.08,"x":-0.18,"v":0.03},{"y":-0.08,"x":-0.16,"v":0.05},{"y":-0.08,"x":-0.14,"v":0.03},{"y":-0.08,"x":-0.12,"v":0.02},{"y":-0.08,"x":-0.1,"v":0.01},{"y":-0.08,"x":0.1,"v":0.01},{"y":-0.08,"x":0.12,"v":0.02},{"y":-0.08,"x":0.14,"v":0.03},{"y":-0.08,"x":0.16,"v":0.05},{"y":-0.08,"x":0.18,"v":0.03},{"y":-0.08,"x":0.2,"v":0.02}
]},
"hconcat":[
{"hconcat":[
{"width":224,"height":434.5,"title":{"text":"E-Major Mode Profile","dx":-4.5},"layer":[
{"data":{"name":"af"},"mark":{"type":"rect","width":13.7,"height":20},"encoding":{
"x":{"field":"x","type":"quantitative","scale":{"domain":[-0.51,0.51],"nice":false,"zero":false},"axis":{"title":"Horizontal Direction (µm)","values":[-0.5,-0.45,-0.4,-0.35,-0.3,-0.25,-0.2,-0.15,-0.1,-0.05,0,0.05,0.1,0.15,0.2,0.25,0.3,0.35,0.4,0.45,0.5],"tickSize":{"condition":{"test":"abs(datum.value*10-round(datum.value*10))<0.01","value":11},"value":6},"labelPadding":14,"titlePadding":9,"labelExpr":"(abs(abs(datum.value)-0.3)<0.001||abs(datum.value)<0.001)?(datum.value<-0.001?'-':'')+format(abs(datum.value),'.1f'):''"}},
"y":{"field":"y","type":"quantitative","scale":{"domain":[-0.31,0.8],"nice":false,"zero":false},"axis":{"title":"Vertical Direction (µm)","values":[-0.3,-0.25,-0.2,-0.15,-0.1,-0.05,0,0.05,0.1,0.15,0.2,0.25,0.3,0.35,0.4,0.45,0.5,0.55,0.6,0.65,0.7,0.75,0.8],"tickSize":{"condition":{"test":"abs(datum.value*10-round(datum.value*10))<0.01","value":11},"value":6},"labelPadding":15,"titlePadding":12,"labelExpr":"abs(datum.value*5-round(datum.value*5))<0.01?(datum.value<-0.001?'-':'')+format(abs(datum.value),'.1f'):''"}},
"color":{"field":"v","type":"quantitative","legend":null,"scale":{"domain":[0,0.2,0.4,0.6,0.8,1],"range":["#ff00ff","#0000ff","#00ffff","#00ff00","#ffff00","#ff0000"],"interpolate":"rgb"}}}},
{"data":{"name":"a"},"mark":{"type":"rect","width":7.1,"height":10.3},"encoding":{
"x":{"field":"x","type":"quantitative"},"y":{"field":"y","type":"quantitative"},
"color":{"field":"v","type":"quantitative"}}},
{"data":{"name":"labels"},"transform":[{"filter":"datum.p=='a'"}],"mark":{"type":"text","font":"Liberation Serif","fontSize":30,"color":"#111111","clip":false},"encoding":{"x":{"field":"x","type":"quantitative"},"y":{"field":"y","type":"quantitative"},"text":{"field":"t"}}}
]},
{"width":224,"height":434.5,"title":"E-Minor Mode Profile","layer":[
{"data":{"name":"b"},"mark":{"type":"rect","width":4.9,"height":8.3},"encoding":{
"x":{"field":"x","type":"quantitative","scale":{"domain":[-0.51,0.51],"nice":false,"zero":false},"axis":{"title":"Horizontal Direction (µm)","values":[-0.5,-0.45,-0.4,-0.35,-0.3,-0.25,-0.2,-0.15,-0.1,-0.05,0,0.05,0.1,0.15,0.2,0.25,0.3,0.35,0.4,0.45,0.5],"tickSize":{"condition":{"test":"abs(datum.value*10-round(datum.value*10))<0.01","value":11},"value":6},"labelPadding":14,"titlePadding":9,"labelExpr":"(abs(abs(datum.value)-0.3)<0.001||abs(datum.value)<0.001)?(datum.value<-0.001?'-':'')+format(abs(datum.value),'.1f'):''"}},
"y":{"field":"y","type":"quantitative","scale":{"domain":[-0.31,0.8],"nice":false,"zero":false},"axis":{"title":"Vertical Direction (µm)","values":[-0.3,-0.25,-0.2,-0.15,-0.1,-0.05,0,0.05,0.1,0.15,0.2,0.25,0.3,0.35,0.4,0.45,0.5,0.55,0.6,0.65,0.7,0.75,0.8],"tickSize":{"condition":{"test":"abs(datum.value*10-round(datum.value*10))<0.01","value":11},"value":6},"labelPadding":15,"titlePadding":12,"labelExpr":"abs(datum.value*5-round(datum.value*5))<0.01?(datum.value<-0.001?'-':'')+format(abs(datum.value),'.1f'):''"}},
"color":{"field":"v","type":"quantitative","legend":null,"scale":{"domain":[0,0.2,0.4,0.6,0.8,1],"range":["#ff00ff","#0000ff","#00ffff","#00ff00","#ffff00","#ff0000"],"interpolate":"rgb"}}}},
{"data":{"name":"labels"},"transform":[{"filter":"datum.p=='b'"}],"mark":{"type":"text","font":"Liberation Serif","fontSize":30,"color":"#111111","clip":false},"encoding":{"x":{"field":"x","type":"quantitative"},"y":{"field":"y","type":"quantitative"},"text":{"field":"t"}}}
]}
],"spacing":26},
{"width":19,"height":433,"view":{"stroke":null,"fill":null},"layer":[
{"data":{"name":"bar"},"mark":{"type":"rect","height":5},"encoding":{
"x":{"datum":0,"type":"quantitative","scale":{"domain":[0,1],"nice":false},"axis":null},"x2":{"datum":1},
"y":{"field":"v","type":"quantitative","scale":{"domain":[0,1],"nice":false},"axis":{"title":null,"offset":11,"domain":true,"domainColor":"#666666","domainWidth":1.5,"values":[0,0.1,0.2,0.3,0.4,0.5,0.6,0.7,0.8,0.9,1],"tickSize":{"condition":{"test":"abs(datum.value*2-round(datum.value*2))<0.01","value":12},"value":6},"labels":false}},
"color":{"field":"v","type":"quantitative","legend":null,"scale":{"domain":[0,0.2,0.4,0.6,0.8,1],"range":["#ff00ff","#0000ff","#00ffff","#00ff00","#ffff00","#ff0000"],"interpolate":"rgb"}}}},
{"data":{"name":"bar_labels"},"mark":{"type":"text","font":"Liberation Sans","fontSize":21,"color":"#222222","clip":false},"encoding":{"x":{"field":"x","type":"quantitative"},"y":{"field":"y","type":"quantitative"},"text":{"field":"t"}}}
]}
],"spacing":38,"resolve":{"scale":{"color":"shared"}}}
